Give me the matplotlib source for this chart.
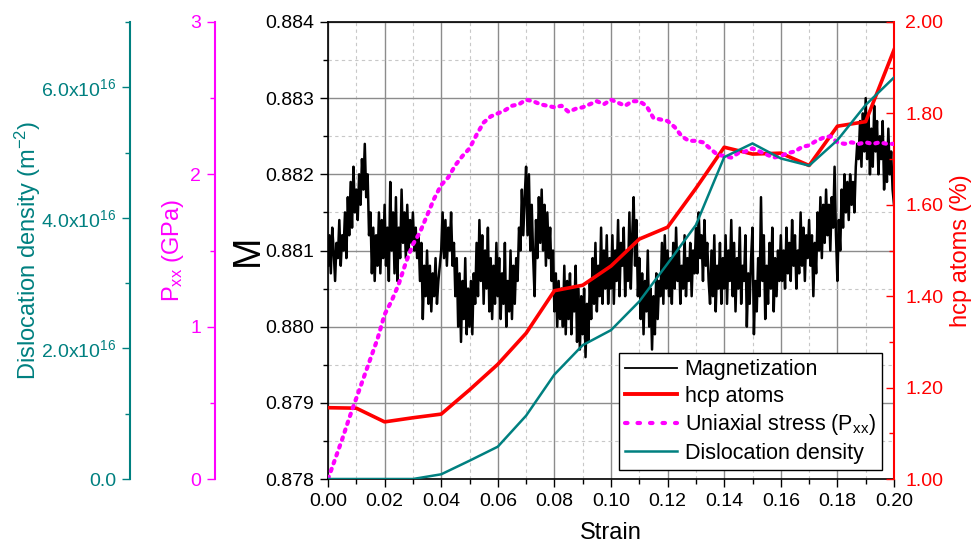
import numpy as np
import matplotlib
matplotlib.use('Agg')
import matplotlib.pyplot as plt
from matplotlib.ticker import MultipleLocator, FuncFormatter, FormatStrFormatter
from matplotlib.lines import Line2D

plt.rcParams['font.family'] = ['Liberation Sans', 'DejaVu Sans']
plt.rcParams['mathtext.fontset'] = 'custom'
plt.rcParams['mathtext.rm'] = 'Liberation Sans'
plt.rcParams['mathtext.it'] = 'Liberation Sans:italic'
plt.rcParams['mathtext.default'] = 'regular'

# ---------------- data ----------------
strain_M = np.linspace(0.0, 0.2, 401)
magnetization = [
    0.8808, 0.8812, 0.8807, 0.8813, 0.8810, 0.8806, 0.8811, 0.8809, 0.8814, 0.8808,
    0.8812, 0.8810, 0.8815, 0.8809, 0.8817, 0.8812, 0.8819, 0.8813, 0.8821, 0.8815,
    0.8818, 0.8814, 0.8820, 0.8816, 0.8822, 0.8818, 0.8824, 0.8817, 0.8820, 0.8812,
    0.8815, 0.8807, 0.8813, 0.8806, 0.8812, 0.8808, 0.8815, 0.8807, 0.8814, 0.8809,
    0.8816, 0.8808, 0.8813, 0.8806, 0.8819, 0.8810, 0.8815, 0.8807, 0.8817, 0.8806,
    0.8813, 0.8809, 0.8818, 0.8811, 0.8815, 0.8809, 0.8816, 0.8810, 0.8814, 0.8811,
    0.8815, 0.8810, 0.8813, 0.8809, 0.8812, 0.8806, 0.8811, 0.8801, 0.8808, 0.8804,
    0.8810, 0.8803, 0.8808, 0.8802, 0.8807, 0.8804, 0.8809, 0.8803, 0.8806, 0.8808,
    0.8810, 0.8815, 0.8809, 0.8814, 0.8808, 0.8813, 0.8810, 0.8815, 0.8808, 0.8811,
    0.8804, 0.8809, 0.8800, 0.8807, 0.8798, 0.8806, 0.8801, 0.8809, 0.8799, 0.8805,
    0.8800, 0.8806, 0.8799, 0.8807, 0.8803, 0.8811, 0.8804, 0.8814, 0.8806, 0.8812,
    0.8803, 0.8810, 0.8805, 0.8813, 0.8802, 0.8809, 0.8801, 0.8808, 0.8803, 0.8811,
    0.8804, 0.8809, 0.8801, 0.8807, 0.8803, 0.8811, 0.8800, 0.8806, 0.8802, 0.8810,
    0.8801, 0.8808, 0.8803, 0.8809, 0.8806, 0.8813, 0.8810, 0.8818, 0.8812, 0.8817,
    0.8821, 0.8812, 0.8820, 0.8810, 0.8816, 0.8809, 0.8804, 0.8814, 0.8809, 0.8817,
    0.8811, 0.8818, 0.8810, 0.8816, 0.8808, 0.8815, 0.8809, 0.8813, 0.8806, 0.8810,
    0.8802, 0.8807, 0.8800, 0.8806, 0.8801, 0.8805, 0.8800, 0.8808, 0.8799, 0.8806,
    0.8801, 0.8807, 0.8799, 0.8805, 0.8802, 0.8808, 0.8798, 0.8805, 0.8797, 0.8804,
    0.8799, 0.8805, 0.8796, 0.8803, 0.8798, 0.8806, 0.8801, 0.8809, 0.8803, 0.8811,
    0.8802, 0.8808, 0.8804, 0.8813, 0.8803, 0.8810, 0.8805, 0.8812, 0.8803, 0.8809,
    0.8805, 0.8812, 0.8803, 0.8810, 0.8806, 0.8814, 0.8804, 0.8811, 0.8808, 0.8813,
    0.8804, 0.8810, 0.8806, 0.8815, 0.8805, 0.8812, 0.8817, 0.8808, 0.8814, 0.8804,
    0.8809, 0.8801, 0.8807, 0.8799, 0.8806, 0.8802, 0.8810, 0.8800, 0.8805, 0.8797,
    0.8804, 0.8799, 0.8807, 0.8801, 0.8806, 0.8804, 0.8811, 0.8803, 0.8812, 0.8805,
    0.8810, 0.8804, 0.8809, 0.8803, 0.8811, 0.8805, 0.8813, 0.8806, 0.8810, 0.8803,
    0.8808, 0.8805, 0.8812, 0.8804, 0.8809, 0.8806, 0.8811, 0.8804, 0.8810, 0.8807,
    0.8813, 0.8807, 0.8815, 0.8809, 0.8812, 0.8806, 0.8814, 0.8808, 0.8811, 0.8806,
    0.8803, 0.8810, 0.8804, 0.8812, 0.8802, 0.8808, 0.8805, 0.8811, 0.8803, 0.8809,
    0.8805, 0.8812, 0.8803, 0.8810, 0.8806, 0.8814, 0.8804, 0.8811, 0.8802, 0.8809,
    0.8805, 0.8813, 0.8803, 0.8808, 0.8806, 0.8812, 0.8800, 0.8807, 0.8803, 0.8809,
    0.8813, 0.8799, 0.8806, 0.8802, 0.8809, 0.8804, 0.8817, 0.8806, 0.8812, 0.8801,
    0.8808, 0.8803, 0.8811, 0.8805, 0.8813, 0.8802, 0.8809, 0.8804, 0.8810, 0.8806,
    0.8812, 0.8806, 0.8810, 0.8805, 0.8813, 0.8807, 0.8811, 0.8806, 0.8814, 0.8808,
    0.8812, 0.8805, 0.8810, 0.8807, 0.8815, 0.8808, 0.8813, 0.8806, 0.8812, 0.8809,
    0.8814, 0.8808, 0.8812, 0.8804, 0.8811, 0.8807, 0.8815, 0.8810, 0.8817, 0.8809,
    0.8816, 0.8811, 0.8818, 0.8812, 0.8816, 0.8810, 0.8817, 0.8813, 0.8821, 0.8812,
    0.8806, 0.8814, 0.8810, 0.8818, 0.8813, 0.8820, 0.8815, 0.8819, 0.8814, 0.8820,
    0.8816, 0.8819, 0.8815, 0.8821, 0.8824, 0.8822, 0.8827, 0.8821, 0.8828, 0.8823,
    0.8830, 0.8822, 0.8828, 0.8820, 0.8826, 0.8821, 0.8829, 0.8823, 0.8827, 0.8820,
    0.8825, 0.8822, 0.8827, 0.8818, 0.8824, 0.8819, 0.8826, 0.8820, 0.8823, 0.8818,
    0.8816,
]

strain_steps = [0.00, 0.01, 0.02, 0.03, 0.04, 0.05, 0.06, 0.07, 0.08, 0.09, 0.10,
                0.11, 0.12, 0.13, 0.14, 0.15, 0.16, 0.17, 0.18, 0.19, 0.20]
hcp_atoms = [1.156, 1.155, 1.125, 1.134, 1.142, 1.195, 1.251, 1.319, 1.412, 1.424, 1.466,
             1.525, 1.551, 1.636, 1.726, 1.711, 1.713, 1.686, 1.772, 1.782, 1.939]
dislocation_density = [0.0, 0.0, 0.0, 0.0, 0.072e16, 0.28e16, 0.495e16, 0.97e16, 1.60e16,
                       2.05e16, 2.28e16, 2.72e16, 3.30e16, 3.89e16, 4.93e16, 5.14e16,
                       4.91e16, 4.80e16, 5.19e16, 5.73e16, 6.15e16]

strain_P = np.linspace(0.0, 0.2, 81)
pxx = [0.00, 0.13, 0.26, 0.40, 0.53, 0.66, 0.79, 0.92, 1.08, 1.17,
       1.28, 1.42, 1.54, 1.62, 1.73, 1.84, 1.93, 1.98, 2.06, 2.12,
       2.17, 2.26, 2.34, 2.38, 2.40, 2.42, 2.45, 2.46, 2.49, 2.48,
       2.46, 2.45, 2.44, 2.45, 2.41, 2.43, 2.44, 2.46, 2.48, 2.46,
       2.49, 2.47, 2.45, 2.48, 2.48, 2.45, 2.37, 2.36, 2.35, 2.31,
       2.25, 2.22, 2.22, 2.21, 2.17, 2.13, 2.12, 2.11, 2.14, 2.15,
       2.17, 2.15, 2.13, 2.11, 2.12, 2.14, 2.15, 2.18, 2.19, 2.22,
       2.24, 2.25, 2.21, 2.20, 2.21, 2.20, 2.21, 2.20, 2.21, 2.20,
       2.20]

# ---------------- styling ----------------
TEAL = '#008080'
MAG = '#FF00FF'
RED = '#FF0000'
TICK_FS = 14
LABEL_FS = 17
PX = 566.0  # main axes width in px

fig = plt.figure(figsize=(9.74, 5.48), dpi=100)
ax = fig.add_axes([328/974, 1-479/548, (894-328)/974, (479-22)/548])

ax.set_xlim(0, 0.2)
ax.set_ylim(0.878, 0.884)
ax.xaxis.set_major_locator(MultipleLocator(0.02))
ax.xaxis.set_minor_locator(MultipleLocator(0.01))
ax.yaxis.set_major_locator(MultipleLocator(0.001))
ax.yaxis.set_minor_locator(MultipleLocator(0.0005))
ax.xaxis.set_major_formatter(FormatStrFormatter('%.2f'))
ax.yaxis.set_major_formatter(FormatStrFormatter('%.3f'))
ax.grid(which='major', color='#8c8c8c', lw=1.0, ls='-')
ax.grid(which='minor', color='#c8c8c8', lw=0.8, ls=(0, (3, 3)))
ax.set_axisbelow(True)
ax.tick_params(axis='both', which='major', direction='out', length=6, width=1,
               labelsize=TICK_FS, top=False, right=False, pad=4)
ax.tick_params(axis='both', which='minor', direction='out', length=3.5, width=1,
               top=False, right=False)
for s in ax.spines.values():
    s.set_linewidth(1.2)
    s.set_color('black')
ax.set_xlabel('Strain', fontsize=LABEL_FS)
ax.xaxis.set_label_coords(0.5, -0.094)
ax.set_ylabel('M', fontsize=27)
ax.yaxis.set_label_coords((266-328)/PX, 0.5)

ax.plot(strain_M, magnetization, color='black', lw=1.8, zorder=3)

# hcp atoms (right)
ax_h = ax.twinx()
ax_h.set_ylim(1.0, 2.0)
ax_h.yaxis.set_major_locator(MultipleLocator(0.2))
ax_h.yaxis.set_minor_locator(MultipleLocator(0.1))
ax_h.yaxis.set_major_formatter(FormatStrFormatter('%.2f'))
ax_h.tick_params(axis='y', which='major', direction='in', length=6, width=1,
                 colors=RED, labelsize=TICK_FS, pad=8)
ax_h.tick_params(axis='y', which='minor', direction='in', length=3.5, width=1, colors=RED)
ax_h.spines['right'].set_color(RED)
ax_h.spines['right'].set_linewidth(1.5)
for k in ['left', 'top', 'bottom']:
    ax_h.spines[k].set_visible(False)
ax_h.set_ylabel('hcp atoms (%)', color=RED, fontsize=LABEL_FS)
ax_h.yaxis.set_label_coords((950-328)/PX, 0.5)
ax_h.plot(strain_steps, hcp_atoms, color=RED, lw=2.6, zorder=4)

# Pxx (left offset)
ax_p = ax.twinx()
ax_p.set_ylim(0, 3)
ax_p.yaxis.set_ticks_position('left')
ax_p.yaxis.set_label_position('left')
ax_p.spines['left'].set_visible(True)
ax_p.spines['left'].set_position(('axes', (215-328)/PX))
ax_p.spines['left'].set_color(MAG)
ax_p.spines['left'].set_linewidth(1.5)
for k in ['right', 'top', 'bottom']:
    ax_p.spines[k].set_visible(False)
ax_p.yaxis.set_major_locator(MultipleLocator(1))
ax_p.yaxis.set_minor_locator(MultipleLocator(0.5))
ax_p.yaxis.set_major_formatter(FormatStrFormatter('%d'))
ax_p.tick_params(axis='y', which='major', direction='out', length=6, width=1,
                 colors=MAG, labelsize=TICK_FS, pad=4)
ax_p.tick_params(axis='y', which='minor', direction='out', length=3.5, width=1, colors=MAG)
ax_p.set_ylabel('P$_{xx}$ (GPa)', color=MAG, fontsize=LABEL_FS)
ax_p.yaxis.set_label_coords((186-328)/PX, 0.5)
ax_p.plot(strain_P, pxx, color=MAG, lw=3.0, ls=(0, (0.6, 1.4)),
          dash_capstyle='round', zorder=4)

# Dislocation density (left offset further)
ax_d = ax.twinx()
ax_d.set_ylim(0, 7e16)
ax_d.yaxis.set_ticks_position('left')
ax_d.yaxis.set_label_position('left')
ax_d.spines['left'].set_visible(True)
ax_d.spines['left'].set_position(('axes', (130-328)/PX))
ax_d.spines['left'].set_color(TEAL)
ax_d.spines['left'].set_linewidth(1.5)
for k in ['right', 'top', 'bottom']:
    ax_d.spines[k].set_visible(False)
ax_d.yaxis.set_major_locator(MultipleLocator(2e16))
ax_d.yaxis.set_minor_locator(MultipleLocator(1e16))


def dens_fmt(v, pos):
    if abs(v) < 1e10:
        return '0.0'
    return '%.1fx10$^{16}$' % (v / 1e16)


ax_d.yaxis.set_major_formatter(FuncFormatter(dens_fmt))
ax_d.tick_params(axis='y', which='major', direction='out', length=6, width=1,
                 colors=TEAL, labelsize=TICK_FS, pad=4)
ax_d.tick_params(axis='y', which='minor', direction='out', length=3.5, width=1, colors=TEAL)
ax_d.set_ylabel('Dislocation density (m$^{-2}$)', color=TEAL, fontsize=LABEL_FS)
ax_d.yaxis.set_label_coords((43-328)/PX, 0.5)
ax_d.plot(strain_steps, dislocation_density, color=TEAL, lw=1.8, zorder=4)

# legend
handles = [Line2D([], [], color='black', lw=1.3),
           Line2D([], [], color=RED, lw=2.8),
           Line2D([], [], color=MAG, lw=3.0, ls=(0, (0.6, 2.4)), dash_capstyle='round'),
           Line2D([], [], color=TEAL, lw=1.8)]
labels = ['Magnetization', 'hcp atoms', 'Uniaxial stress (P$_{xx}$)', 'Dislocation density']
leg = ax_d.legend(handles, labels, loc='lower right',
                  bbox_to_anchor=(882/974, 1-470/548), bbox_transform=fig.transFigure,
                  fontsize=15.5, frameon=True, fancybox=False, framealpha=1,
                  edgecolor='black', borderaxespad=0, handlelength=2.4,
                  labelspacing=0.25, borderpad=0.3, handletextpad=0.35)
leg.get_frame().set_linewidth(1.0)
leg.set_zorder(10)

fig.savefig('out.png', dpi=100)
